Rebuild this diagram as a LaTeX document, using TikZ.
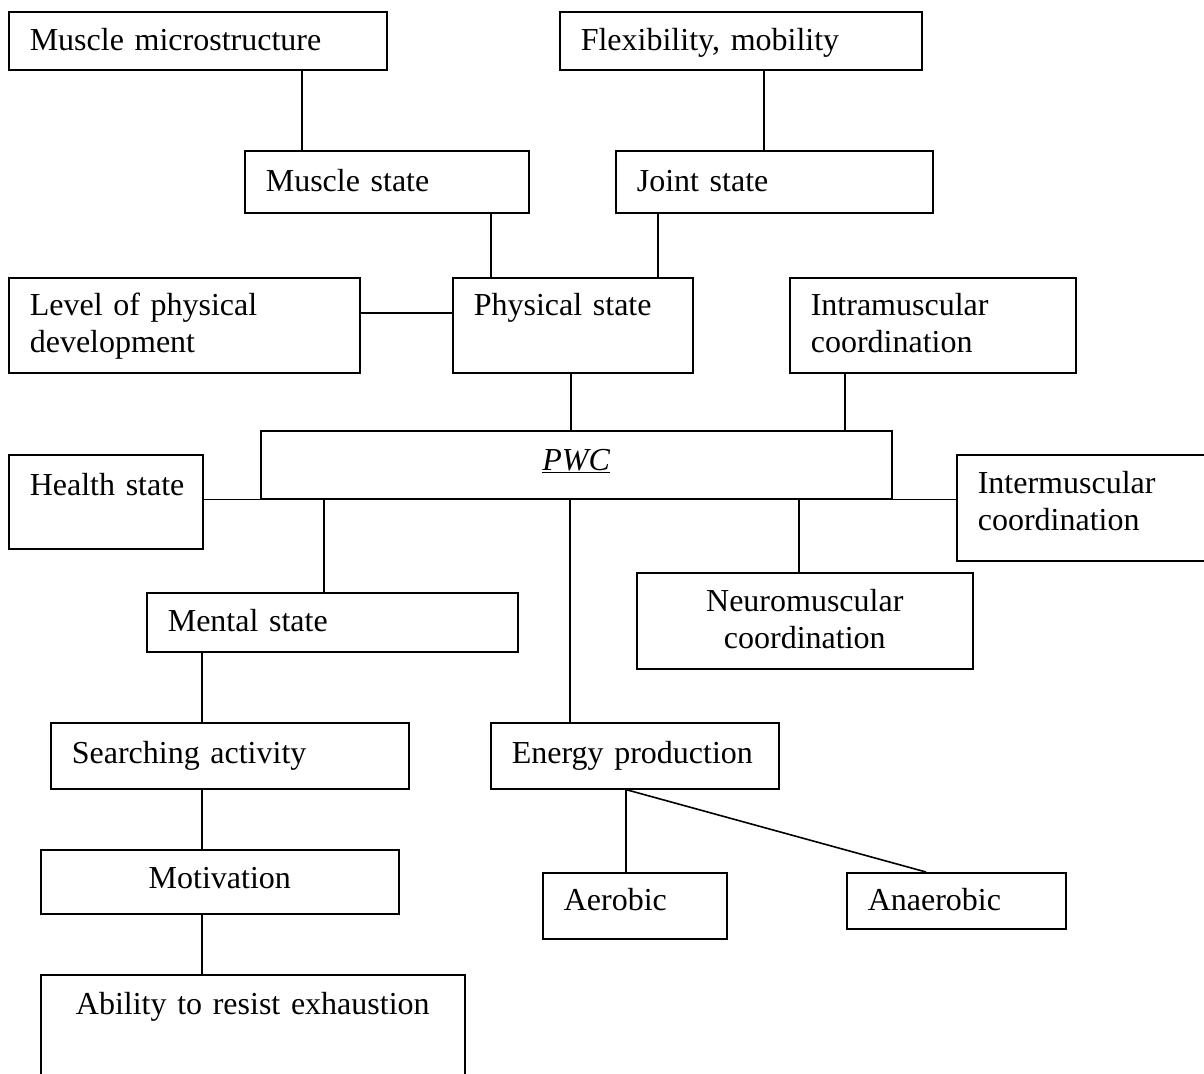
\documentclass[tikz,border=0pt]{standalone}
\usepackage{fontspec}
\setmainfont{Liberation Serif}
\begin{document}
\begin{tikzpicture}[x=1pt,y=-1pt,
  box/.style={draw, line width=1.6pt, anchor=north west, inner xsep=21pt, inner ysep=0pt,
    align=left, font=\fontsize{32}{37}\selectfont},
  cbox/.style={box, align=center},
  conn/.style={line width=1.6pt}]
\useasboundingbox (0,0) rectangle (1204,1073);
\clip (0,0) rectangle (1204,1073);
% row 1
\node[box, text width=336pt, text height=39pt, text depth=19pt] (mm) at (8,11) {Muscle microstructure};
\node[box, text width=320pt, text height=39pt, text depth=19pt] (flex) at (559,11) {Flexibility, mobility};
% row 2
\node[box, text width=242pt, text height=41pt, text depth=21pt] (ms) at (244,150) {Muscle state};
\node[box, text width=275pt, text height=41pt, text depth=21pt] (js) at (615,150) {Joint state};
% row 3
\node[box, text width=309pt, text height=38pt, text depth=57pt] (lvl) at (8,277) {Level of physical\\development};
\node[box, text width=198pt, text height=38pt, text depth=57pt] (ps) at (452,277) {Physical state};
\node[box, text width=244pt, text height=38pt, text depth=57pt] (intra) at (789,277) {Intramuscular\\coordination};
% PWC row
\node[cbox, text width=589pt, text height=40pt, text depth=28pt] (pwc) at (260,430) {\underline{\textit{PWC}}};
\node[box, text width=152pt, text height=41pt, text depth=53pt] (health) at (8,454) {\mbox{Health state}};
\node[box, text width=217pt, text height=39pt, text depth=67pt] (inter) at (956,454) {Intermuscular\\coordination};
% next
\node[box, text width=329pt, text height=39pt, text depth=20pt] (mental) at (146,592) {Mental state};
\node[cbox, text width=294pt, text height=39pt, text depth=57pt] (neuro) at (636,572) {Neuromuscular\\coordination};
\node[box, text width=316pt, text height=41pt, text depth=25pt] (search) at (50,722) {Searching activity};
\node[box, text width=246pt, text height=41pt, text depth=25pt] (energy) at (490,722) {Energy production};
\node[cbox, text width=316pt, text height=39pt, text depth=25pt] (motiv) at (40,849) {Motivation};
\node[box, text width=142pt, text height=38pt, text depth=28pt] (aer) at (542,872) {Aerobic};
\node[box, text width=177pt, text height=38pt, text depth=18pt] (anaer) at (846,872) {Anaerobic};
\node[cbox, text width=382pt, text height=40pt, text depth=90pt] (ability) at (40,974) {Ability to resist exhaustion};
% connectors
\draw[conn] (302,0 |- mm.south) -- (302,0 |- ms.north);
\draw[conn] (764,0 |- flex.south) -- (764,0 |- js.north);
\draw[conn] (491,0 |- ms.south) -- (491,0 |- ps.north);
\draw[conn] (658,0 |- js.south) -- (658,0 |- ps.north);
\draw[conn] (lvl.east |- 0,313) -- (ps.west |- 0,313);
\draw[conn] (571,0 |- ps.south) -- (571,0 |- pwc.north);
\draw[conn] (845,0 |- intra.south) -- (845,0 |- pwc.north);
\draw[conn] (health.east |- pwc.south) -- (pwc.south west);
\draw[conn] (pwc.south east) -- (inter.west |- pwc.south);
\draw[conn] (324,0 |- pwc.south) -- (324,0 |- mental.north);
\draw[conn] (799,0 |- pwc.south) -- (799,0 |- neuro.north);
\draw[conn] (570,0 |- pwc.south) -- (570,0 |- energy.north);
\draw[conn] (202,0 |- mental.south) -- (202,0 |- search.north);
\draw[conn] (202,0 |- search.south) -- (202,0 |- motiv.north);
\draw[conn] (202,0 |- motiv.south) -- (202,0 |- ability.north);
\coordinate (ebase) at (626,0 |- energy.south);
\draw[conn] (ebase) -- (626,0 |- aer.north);
\draw[conn] (ebase) -- (926,0 |- anaer.north);
\end{tikzpicture}
\end{document}
